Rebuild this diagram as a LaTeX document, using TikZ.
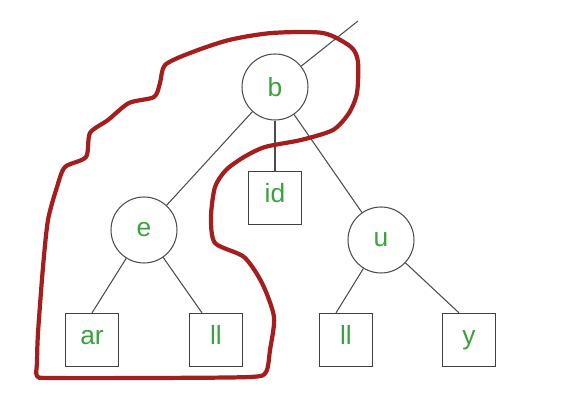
\documentclass[tikz,border=0pt]{standalone}
\usepackage{fontspec}
\setmainfont{Liberation Sans}
\definecolor{labelgreen}{RGB}{60,160,60}
\definecolor{loopred}{RGB}{165,30,30}
\begin{document}
\begin{tikzpicture}[x=0.02cm, y=-0.02cm,
    treenode/.style={circle, draw=black!70, line width=0.6pt, minimum size=1.32cm, inner sep=0pt,
        text=labelgreen, font=\fontsize{15}{17}\selectfont},
    leafbox/.style={rectangle, draw=black!75, line width=0.7pt, minimum size=1.06cm, inner sep=0pt,
        text=labelgreen, text height=0.75em, text depth=0.2em, font=\fontsize{15}{17}\selectfont},
    branch/.style={black!70, line width=0.6pt},
    redloop/.style={loopred, line width=2.4pt, line join=round}]
        \useasboundingbox (0,0) rectangle (562,404);

        % inner nodes
        \node[treenode] (b) at (275,87) {b};
        \node[treenode] (e) at (144,230) {e};
        \node[treenode] (u) at (381,240) {u};

        % leaves
        \node[leafbox] (id) at (275,198) {id};
        \node[leafbox] (ar) at (92,340) {ar};
        \node[leafbox] (llA) at (216,340) {ll};
        \node[leafbox] (llB) at (346,340) {ll};
        \node[leafbox] (y) at (469,340) {y};

        \coordinate (top) at (358,21);

        % connectors
        \draw[branch] (b) -- (top);
        \draw[branch] (b) -- (e);
        \draw[branch] (b) -- (id);
        \draw[branch] (b) -- (u);
        \draw[branch] (e) -- (ar.north);
        \draw[branch] (e) -- ([xshift=-0.28cm]llA.north);
        \draw[branch] (u) -- ([xshift=-0.2cm]llB.north);
        \draw[branch] (u) -- ([xshift=-0.2cm]y.north);

        % hand drawn loop round the left subtree
        \draw[redloop] plot[smooth cycle, tension=0.45] coordinates {
            (37,362) (38,333) (43,267) (48,220) (57,187) (65,167) (86,157) (90,133)
            (108,120) (129,103) (154,97) (160,83) (165,65) (190,53) (229,40) (272,33)
            (323,33) (351,47) (358,62) (357,93) (349,113) (333,130) (301,140) (265,147)
            (244,157) (226,170) (215,187) (211,217) (215,243) (244,257) (262,283) (274,317)
            (270,350) (266,372) (250,377) (150,378) (50,378) (37,376)};
    \end{tikzpicture}
\end{document}
